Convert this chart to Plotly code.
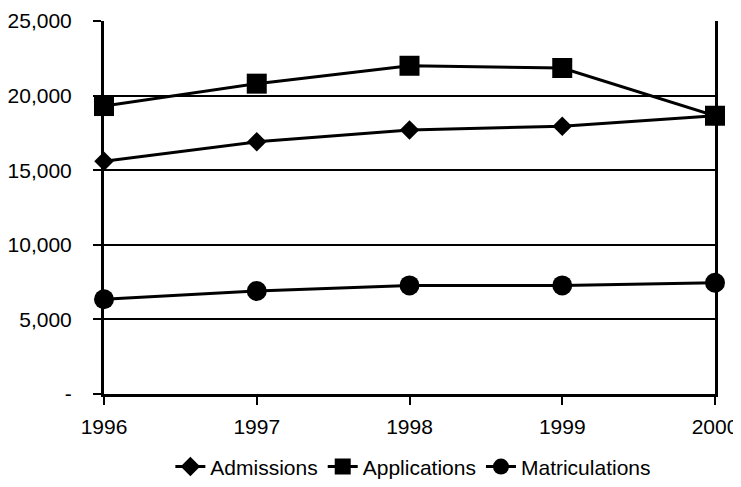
import plotly.graph_objects as go

# Values
years = [1996, 1997, 1998, 1999, 2000]
admissions = [15600, 16900, 17700, 17950, 18650]
applications = [19300, 20800, 22000, 21850, 18650]
matriculations = [6350, 6900, 7280, 7280, 7460]

y_ticks = [0, 5000, 10000, 15000, 20000, 25000]
y_tick_labels = ["-", "5,000", "10,000", "15,000", "20,000", "25,000"]

FONT = "Liberation Sans Narrow, Arial Narrow, Liberation Sans, Arial, sans-serif"

fig = go.Figure()

series = [
    ("Admissions", admissions, "diamond", 15),
    ("Applications", applications, "square", 20),
    ("Matriculations", matriculations, "circle", 20),
]
for name, vals, symbol, size in series:
    fig.add_trace(go.Scatter(
        x=years, y=vals, name=name, mode="lines+markers",
        line=dict(color="black", width=3),
        marker=dict(symbol=symbol, size=size, color="black"),
        cliponaxis=False,
    ))

# page body adds an 8px margin, so the figure is sized to fit inside the window
fig.update_layout(
    width=733, height=479,
    margin=dict(l=96, r=26, t=13, b=93, autoexpand=False),
    paper_bgcolor="white", plot_bgcolor="white",
    font=dict(family=FONT, size=21, color="black"),
    showlegend=True,
    legend=dict(
        orientation="h", xref="container", x=0.553, xanchor="center",
        yref="container", y=0.042, yanchor="middle",
        font=dict(size=21), itemwidth=30, tracegroupgap=0,
    ),
)

fig.update_xaxes(
    range=[1996, 2000], tickvals=years, ticktext=[str(y) for y in years],
    showgrid=False, zeroline=False, automargin=False,
    showline=True, linecolor="black", linewidth=3,
    ticks="outside", ticklen=8, tickwidth=2, tickcolor="black",
    ticklabelstandoff=4,
)
fig.update_yaxes(
    range=[0, 25000], tickvals=y_ticks, ticktext=y_tick_labels,
    showgrid=True, gridcolor="black", gridwidth=2, zeroline=False, automargin=False,
    showline=True, linecolor="black", linewidth=3, mirror=True,
    ticks="outside", ticklen=8, tickwidth=2, tickcolor="black",
    ticklabelstandoff=17,
)

fig.write_html("out.html")
